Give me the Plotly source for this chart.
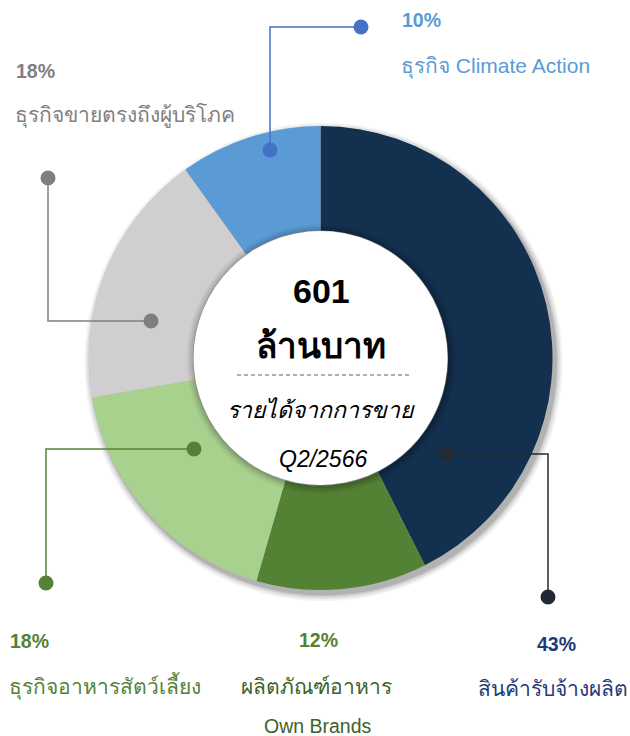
import plotly.graph_objects as go

# ---- data ----
categories = ["สินค้ารับจ้างผลิต", "ผลิตภัณฑ์อาหาร Own Brands", "ธุรกิจอาหารสัตว์เลี้ยง",
              "ธุรกิจขายตรงถึงผู้บริโภค", "ธุรกิจ Climate Action"]
values = [43, 12, 18, 18, 10]
pct_labels = ["43%", "12%", "18%", "18%", "10%"]
slice_colors = ["#13304F", "#548235", "#A9D18E", "#D0CECE", "#5B9BD5"]
total_text = "601"
unit_text = "ล้านบาท"
desc_text = "รายได้จากการขาย"
period_text = "Q2/2566"

W, H = 630, 736
cx, cy, R = 320.5, 358, 232
r_in = 127

FONT = "Liberation Sans, Arial, sans-serif"

fig = go.Figure()

fig.add_trace(go.Pie(
    values=values, labels=categories, sort=False, direction="clockwise", rotation=0,
    hole=0.55, marker=dict(colors=slice_colors, line=dict(width=0)),
    textinfo="none", hoverinfo="label+percent", showlegend=False,
    domain=dict(x=[(cx - R) / W, (cx + R) / W], y=[(H - cy - R) / H, (H - cy + R) / H]),
))

shapes = []
# soft outer shadow (below pie)
for dr, op in [(7, 0.05), (5, 0.07), (3, 0.09), (1.5, 0.12)]:
    shapes.append(dict(type="circle", xref="x", yref="y", layer="below",
                       x0=cx - R - dr + 3, x1=cx + R + dr + 3, y0=cy - R - dr + 4, y1=cy + R + dr + 4,
                       fillcolor=f"rgba(0,0,0,{op})", line=dict(width=0)))
# inner disc shadow + white disc
for dr, op in [(8, 0.04), (6, 0.05), (4, 0.07), (2, 0.09)]:
    shapes.append(dict(type="circle", xref="x", yref="y", layer="above",
                       x0=cx - r_in - dr + 1, x1=cx + r_in + dr + 1, y0=cy - r_in - dr + 1, y1=cy + r_in + dr + 1,
                       fillcolor=f"rgba(0,0,0,{op})", line=dict(width=0)))
shapes.append(dict(type="circle", xref="x", yref="y", layer="above",
                   x0=cx - r_in, x1=cx + r_in, y0=cy - r_in, y1=cy + r_in,
                   fillcolor="white", line=dict(width=0)))
# dashed separator
shapes.append(dict(type="line", xref="x", yref="y", layer="above",
                   x0=237, x1=410, y0=375, y1=375, line=dict(color="#4F6483", width=1.2, dash="4px,3px")))

# callouts: (path points, colour)
callouts = [
    ([(270, 150), (270, 27), (361, 27)], "#4472C4"),
    ([(151, 321), (48, 321), (48, 178)], "#7F7F7F"),
    ([(194, 449), (46, 449), (46, 583)], "#548235"),
    ([(447, 454), (548, 454), (548, 597)], "#222A35"),
]
for pts, col in callouts:
    path = "M " + " L ".join(f"{x},{y}" for x, y in pts)
    shapes.append(dict(type="path", xref="x", yref="y", layer="above", path=path,
                       line=dict(color=col, width=1.5)))
    for (x, y) in (pts[0], pts[-1]):
        shapes.append(dict(type="circle", xref="x", yref="y", layer="above",
                           x0=x - 7.5, x1=x + 7.5, y0=y - 7.5, y1=y + 7.5,
                           fillcolor=col, line=dict(width=0)))

fig.update_layout(shapes=shapes)

ann = []
def txt(x, y, s, size, color, bold=False, italic=False, xanchor="left"):
    if bold:
        s = f"<b>{s}</b>"
    if italic:
        s = f"<i>{s}</i>"
    ann.append(dict(x=x, y=y, xref="x", yref="y", text=s, showarrow=False,
                    xanchor=xanchor, yanchor="middle",
                    font=dict(family=FONT, size=size, color=color)))

# slice labels
txt(400, 20, pct_labels[4], 19.5, "#5B9BD5", bold=True)
txt(399, 66, "ธุรกิจ Climate Action", 21, "#5B9BD5")
txt(14, 71, pct_labels[3], 19.5, "#7F7F7F", bold=True)
txt(13, 115, categories[3], 21, "#7F7F7F")
txt(8, 641, pct_labels[2], 19.5, "#548235", bold=True)
txt(7, 686, categories[2], 21, "#548235")
txt(318, 640, pct_labels[1], 19.5, "#548235", bold=True, xanchor="center")
txt(316, 686, "ผลิตภัณฑ์อาหาร", 21, "#3F6128", xanchor="center")
txt(318, 726, "Own Brands", 19.5, "#3F6128", xanchor="center")
txt(556, 644, pct_labels[0], 19.5, "#1F3A78", bold=True, xanchor="center")
txt(553, 688, categories[0], 21, "#1F3A78", xanchor="center")

# center text
txt(321, 291, total_text, 34, "#000000", bold=True, xanchor="center")
txt(321, 345, unit_text, 35, "#000000", bold=True, xanchor="center")
txt(321, 410, desc_text, 23, "#000000", italic=True, xanchor="center")
txt(323, 459, period_text, 23, "#000000", italic=True, xanchor="center")

fig.update_layout(
    annotations=ann,
    width=W, height=H,
    margin=dict(l=0, r=0, t=0, b=0),
    paper_bgcolor="white", plot_bgcolor="rgba(0,0,0,0)",
    xaxis=dict(range=[0, W], visible=False, domain=[0, 1], fixedrange=True),
    yaxis=dict(range=[H, 0], visible=False, domain=[0, 1], fixedrange=True),
    showlegend=False,
)

fig.write_html("out.html", config={"displayModeBar": False},
               post_script="document.body.style.margin='0px';document.body.style.overflow='hidden';")
